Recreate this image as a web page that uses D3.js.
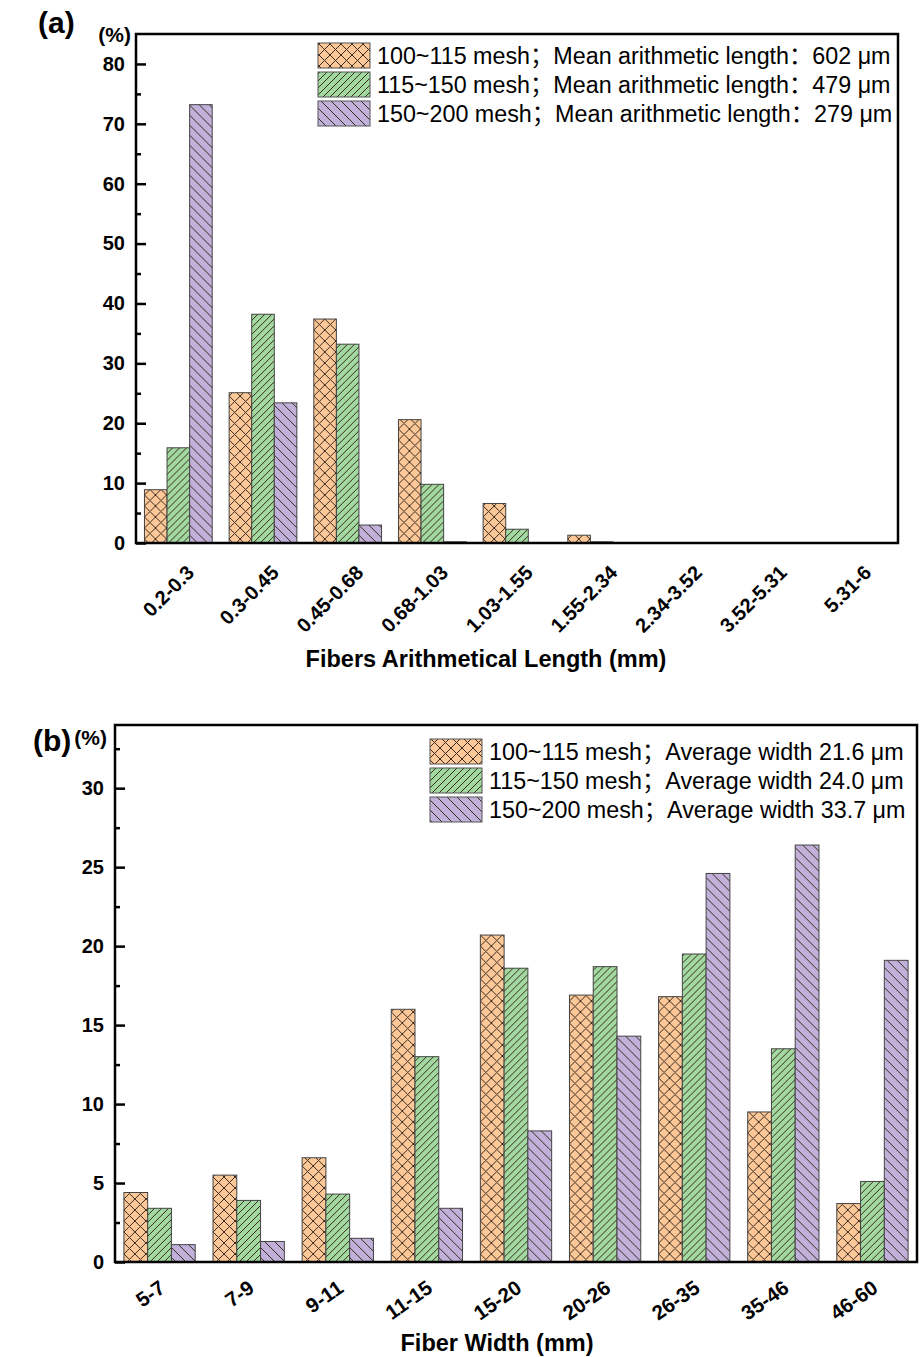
<!DOCTYPE html>
<html>
<head>
<meta charset="utf-8">
<script src="https://cdn.jsdelivr.net/npm/d3@7"></script>
<style>
  body { margin: 0; background: #fff; }
  svg { display: block; font-family: "Liberation Sans", Arial, "Noto Sans CJK SC", sans-serif; }
</style>
</head>
<body>
<svg id="chart" width="920" height="1357"></svg>
<script>
// panel (a): fiber length distribution
const lenCats = ["0.2-0.3", "0.3-0.45", "0.45-0.68", "0.68-1.03", "1.03-1.55", "1.55-2.34", "2.34-3.52", "3.52-5.31", "5.31-6"];
const len100 = [8.9, 25.1, 37.4, 20.6, 6.6, 1.3, 0, 0, 0];
const len115 = [15.9, 38.2, 33.2, 9.8, 2.3, 0.2, 0, 0, 0];
const len150 = [73.2, 23.4, 3.0, 0.2, 0, 0, 0, 0, 0];
const lenLegend = [
  "100~115 mesh；Mean arithmetic length：602 μm",
  "115~150 mesh；Mean arithmetic length：479 μm",
  "150~200 mesh；Mean arithmetic length：279 μm"
];
const lenTicks = [0, 10, 20, 30, 40, 50, 60, 70, 80];

// panel (b): fiber width distribution
const widCats = ["5-7", "7-9", "9-11", "11-15", "15-20", "20-26", "26-35", "35-46", "46-60"];
const wid100 = [4.4, 5.5, 6.6, 16.0, 20.7, 16.9, 16.8, 9.5, 3.7];
const wid115 = [3.4, 3.9, 4.3, 13.0, 18.6, 18.7, 19.5, 13.5, 5.1];
const wid150 = [1.1, 1.3, 1.5, 3.4, 8.3, 14.3, 24.6, 26.4, 19.1];
const widLegend = [
  "100~115 mesh；Average width 21.6 μm",
  "115~150 mesh；Average width 24.0 μm",
  "150~200 mesh；Average width 33.7 μm"
];
const widTicks = [0, 5, 10, 15, 20, 25, 30];

const fills = ["#fcc897", "#a2d9a0", "#c0b0da"];
const svg = d3.select("#chart");
const defs = svg.append("defs");

// hatch patterns
function makePattern(id, bg, size, paths) {
  let p = defs.append("pattern")
    .attr("id", id)
    .attr("patternUnits", "userSpaceOnUse")
    .attr("width", size).attr("height", size);
  p.append("rect").attr("width", size).attr("height", size).attr("fill", bg);
  paths.forEach(d => {
    p.append("path").attr("d", d)
      .attr("stroke", "#3a2a20").attr("stroke-width", 1).attr("fill", "none");
  });
}
makePattern("pat0", fills[0], 11, ["M0,0L11,11", "M11,0L0,11", "M-1,10L1,12", "M10,-1L12,1"]);
makePattern("pat1", fills[1], 7, ["M0,7L7,0", "M-1,1L1,-1", "M6,8L8,6"]);
makePattern("pat2", fills[2], 10, ["M0,0L10,10", "M-1,9L1,11", "M9,-1L11,1"]);

function drawPanel(cfg) {
  const g = svg.append("g");
  const x = d3.scaleBand().domain(cfg.cats).range([cfg.left, cfg.right])
    .paddingInner(0.2).paddingOuter(0.1);
  const x1 = d3.scaleBand().domain([0, 1, 2]).range([0, x.bandwidth()]);
  const y = d3.scaleLinear().domain([0, cfg.ymax]).range([cfg.bottom, cfg.top]);

  const series = cfg.series;
  const groups = g.selectAll("g.grp").data(cfg.cats).enter().append("g")
    .attr("class", "grp")
    .attr("transform", d => `translate(${x(d)},0)`);
  groups.selectAll("rect")
    .data((d, i) => series.map((s, k) => ({k: k, v: s[i]})))
    .enter().append("rect")
    .attr("x", d => x1(d.k))
    .attr("width", x1.bandwidth())
    .attr("y", d => y(d.v))
    .attr("height", d => cfg.bottom - y(d.v))
    .attr("fill", d => `url(#pat${d.k})`)
    .attr("stroke", "#444")
    .attr("stroke-width", 1);

  // frame
  g.append("rect")
    .attr("x", cfg.left).attr("y", cfg.top)
    .attr("width", cfg.right - cfg.left).attr("height", cfg.bottom - cfg.top)
    .attr("fill", "none").attr("stroke", "#000").attr("stroke-width", 2.5);

  // y axis with inward ticks
  const ya = g.append("g").attr("transform", `translate(${cfg.left},0)`)
    .call(d3.axisLeft(y).tickValues(cfg.ticks).tickSize(-10).tickPadding(11));
  ya.select(".domain").remove();
  ya.selectAll("line").attr("stroke-width", 2.5);
  ya.selectAll("text").attr("font-size", 20).attr("font-weight", "bold").attr("fill", "#000");
  const ym = g.append("g").attr("transform", `translate(${cfg.left},0)`)
    .call(d3.axisLeft(y).tickValues(cfg.minor).tickSize(-5).tickFormat(""));
  ym.select(".domain").remove();
  ym.selectAll("line").attr("stroke-width", 2.5);

  // x labels
  const xa = g.append("g").attr("transform", `translate(0,${cfg.bottom})`)
    .call(d3.axisBottom(x).tickSize(0).tickPadding(0));
  xa.select(".domain").remove();
  xa.selectAll("text")
    .attr("font-size", cfg.lblSize).attr("font-weight", "bold").attr("fill", "#000")
    .attr("text-anchor", "end")
    .attr("dy", 0).attr("y", 0)
    .attr("transform", `translate(${cfg.lblDx},${cfg.lblDy}) rotate(${cfg.rot})`);

  // legend
  const lg = g.append("g");
  cfg.legend.forEach((t, k) => {
    const ly = cfg.legY + k * 29;
    lg.append("rect").attr("x", cfg.legX).attr("y", ly)
      .attr("width", 52).attr("height", 25)
      .attr("fill", `url(#pat${k})`).attr("stroke", "#555").attr("stroke-width", 1);
    lg.append("text").attr("x", cfg.legX + 59).attr("y", ly + 21)
      .attr("font-size", 23.3).attr("fill", "#000").text(t);
  });

  // labels
  g.append("text").attr("x", cfg.tagX).attr("y", cfg.tagY)
    .attr("font-size", 30).attr("font-weight", "bold").text(cfg.tag);
  g.append("text").attr("x", cfg.pctX).attr("y", cfg.pctY)
    .attr("text-anchor", "end")
    .attr("font-size", 21).attr("font-weight", "bold").text("(%)");
  g.append("text").attr("x", cfg.titleX).attr("y", cfg.titleY)
    .attr("text-anchor", "middle")
    .attr("font-size", 23.5).attr("font-weight", "bold").text(cfg.title);
}

drawPanel({
  cats: lenCats, series: [len100, len115, len150], legend: lenLegend,
  left: 136, right: 898, top: 34, bottom: 543, ymax: 85,
  ticks: lenTicks, minor: [5, 15, 25, 35, 45, 55, 65, 75],
  rot: -45, lblDx: 17, lblDy: 31, lblSize: 20,
  legX: 318, legY: 43,
  tag: "(a)", tagX: 38, tagY: 33, pctX: 131, pctY: 42,
  title: "Fibers Arithmetical Length (mm)", titleX: 486, titleY: 667
});

drawPanel({
  cats: widCats, series: [wid100, wid115, wid150], legend: widLegend,
  left: 115, right: 917, top: 725, bottom: 1262, ymax: 34,
  ticks: widTicks, minor: [2.5, 7.5, 12.5, 17.5, 22.5, 27.5, 32.5],
  rot: -35, lblDx: 7, lblDy: 29, lblSize: 20.5,
  legX: 430, legY: 739,
  tag: "(b)", tagX: 33, tagY: 751, pctX: 107, pctY: 745,
  title: "Fiber Width (mm)", titleX: 497, titleY: 1351
});
</script>
</body>
</html>
